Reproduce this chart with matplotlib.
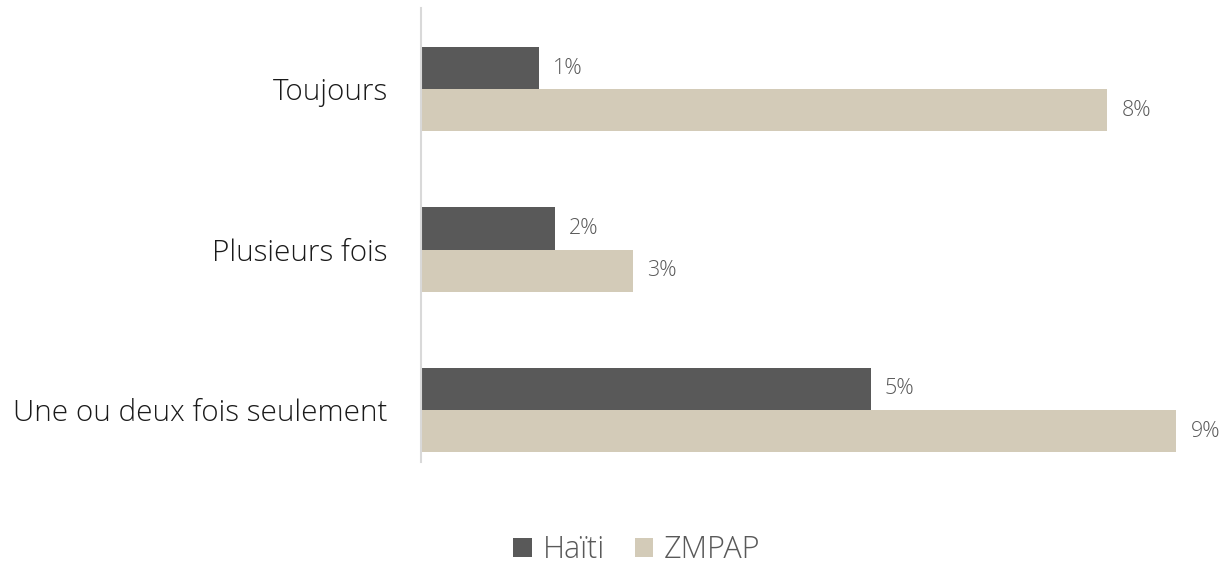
import numpy as np
import matplotlib
matplotlib.use('Agg')
import matplotlib.pyplot as plt

categories = ['Toujours', 'Plusieurs fois', 'Une ou deux fois seulement']
series = ['Haïti', 'ZMPAP']
haiti = [1.42, 1.61, 5.42]
zmpap = [8.27, 2.55, 9.10]
colors = ['#595959', '#D3CBB8']

plt.rcParams['font.family'] = ['Open Sans', 'DejaVu Sans']
plt.rcParams['font.weight'] = 'light'

fig = plt.figure(figsize=(12.25, 5.87), dpi=100)
ax = fig.add_axes([421 / 1225, 1 - 462 / 587, 1 - 421 / 1225, 454 / 587])

y = np.arange(len(categories))
h = 0.262
b1 = ax.barh(y - h / 2, haiti, height=h, color=colors[0], label=series[0])
b2 = ax.barh(y + h / 2, zmpap, height=h, color=colors[1], label=series[1])

for bars, vals in ((b1, haiti), (b2, zmpap)):
    for bar, v in zip(bars, vals):
        ax.text(bar.get_width() + 0.17, bar.get_y() + bar.get_height() / 2,
                '%d%%' % round(v), va='center', ha='left',
                fontsize=15.5, color='#595959')

ax.set_xlim(0, (1225 - 421) / 83)
ax.set_ylim(2.324, -0.505)
ax.set_yticks(y)
ax.set_yticklabels(categories, fontsize=21.3, color='#1a1a1a')
ax.tick_params(axis='y', length=0, pad=24)
ax.set_xticks([])
for s in ['top', 'right', 'bottom']:
    ax.spines[s].set_visible(False)
ax.spines['left'].set_color('#D9D9D9')
ax.spines['left'].set_linewidth(1.5)

fig.legend(loc='center', bbox_to_anchor=(637 / 1225, 1 - 550 / 587), ncol=2,
           frameon=False, fontsize=22, handlelength=0.6, handleheight=0.6,
           handletextpad=0.35, columnspacing=1.0, labelcolor='#595959')

fig.savefig('out.png', dpi=100)
